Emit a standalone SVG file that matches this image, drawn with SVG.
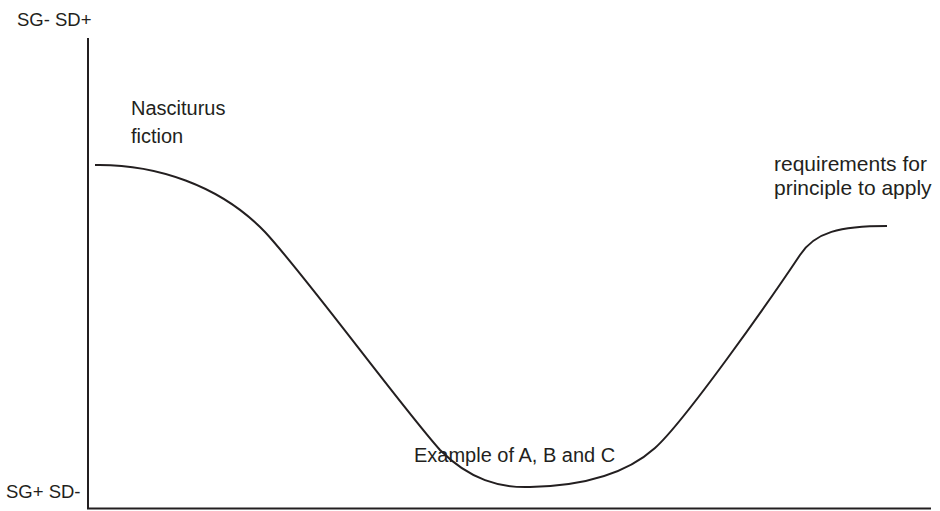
<svg xmlns="http://www.w3.org/2000/svg" width="940" height="511" viewBox="0 0 940 511">
<style>
text{font-family:"Liberation Sans",Arial,sans-serif;fill:#231f20}
.ax{stroke:#231f20;stroke-width:2;fill:none}
.cv{stroke:#231f20;stroke-width:2;fill:none}
</style>
<rect width="940" height="511" fill="#fff"/>
<g id="axes">
<path class="ax" d="M88,38 V508.5 H931"/>
</g>
<g id="axis-labels">
<text x="17" y="26" font-size="18.5">SG- SD+</text>
<text x="6" y="498" font-size="18.5">SG+ SD-</text>
</g>
<g id="curve">
<path class="cv" d="M95,165 C155,164 220,185 265,232 C305,275 400,405 440,450 C470,480 500,488 530,487 C580,486 625,475 655,448 C685,421 770,300 800,255 C815,232 840,226 887,226"/>
</g>
<g id="labels">
<text x="131" y="115" font-size="20">Nasciturus</text>
<text x="131" y="142.5" font-size="20">fiction</text>
<text x="414" y="461.5" font-size="20">Example of A, B and C</text>
<text x="774" y="170.5" font-size="21">requirements for</text>
<text x="774" y="195" font-size="21">principle to apply</text>
</g>
</svg>
